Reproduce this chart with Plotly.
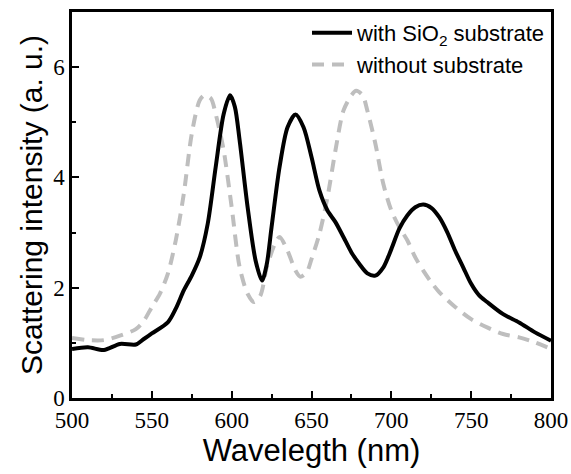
import plotly.graph_objects as go

wl_with = [500, 510, 520, 530, 540, 545, 550, 560, 565, 570, 575, 580, 585, 590, 595, 599, 602, 605, 610, 615, 619, 622, 625, 630, 635, 640, 645, 650, 655, 660, 665, 670, 675, 680, 685, 690, 695, 700, 705, 710, 715, 720, 725, 730, 735, 740, 745, 750, 755, 760, 770, 780, 790, 800]
int_with = [0.89, 0.92, 0.87, 0.98, 0.97, 1.07, 1.17, 1.37, 1.62, 1.95, 2.22, 2.55, 3.16, 4.19, 5.15, 5.49, 5.28, 4.67, 3.46, 2.49, 2.13, 2.43, 3.10, 4.19, 4.91, 5.14, 4.91, 4.37, 3.76, 3.40, 3.19, 2.92, 2.64, 2.43, 2.26, 2.22, 2.37, 2.70, 3.07, 3.31, 3.46, 3.51, 3.45, 3.28, 3.01, 2.67, 2.37, 2.07, 1.86, 1.74, 1.52, 1.37, 1.19, 1.04]

wl_without = [500, 510, 520, 530, 540, 545, 550, 555, 560, 565, 570, 575, 580, 583, 587, 590, 595, 600, 605, 610, 614, 618, 622, 627, 630, 635, 640, 643, 647, 650, 655, 660, 665, 670, 675, 678, 682, 685, 690, 695, 700, 705, 710, 715, 720, 725, 730, 740, 750, 760, 770, 780, 790, 800]
int_without = [1.09, 1.05, 1.05, 1.13, 1.25, 1.40, 1.65, 1.89, 2.25, 2.86, 3.70, 4.79, 5.40, 5.49, 5.43, 5.15, 4.49, 3.46, 2.37, 1.89, 1.74, 1.86, 2.37, 2.79, 2.92, 2.67, 2.31, 2.20, 2.28, 2.52, 2.98, 3.64, 4.49, 5.21, 5.49, 5.57, 5.49, 5.21, 4.61, 3.88, 3.40, 3.10, 2.86, 2.55, 2.31, 2.10, 1.92, 1.65, 1.43, 1.28, 1.16, 1.10, 1.01, 0.89]

x_ticks = [500, 550, 600, 650, 700, 750, 800]
y_ticks = [0, 2, 4, 6]

fig = go.Figure()
fig.add_trace(go.Scatter(x=wl_without, y=int_without, mode="lines",
                         name="without substrate",
                         line=dict(color="#bebebe", width=4, dash="12px,8px", shape="spline", smoothing=0.8)))
fig.add_trace(go.Scatter(x=wl_with, y=int_with, mode="lines",
                         name="with SiO<sub>2</sub> substrate",
                         line=dict(color="black", width=4, shape="spline", smoothing=0.8)))

serif = "Liberation Serif, Times New Roman, serif"
sans = "Liberation Sans, Arial, sans-serif"

fig.update_layout(
    width=571, height=474,
    margin=dict(l=72, r=20, t=12, b=76),
    paper_bgcolor="white", plot_bgcolor="white",
    showlegend=True,
    legend=dict(x=1.0, y=1.0, xanchor="right", yanchor="top",
                traceorder="reversed", bgcolor="rgba(0,0,0,0)",
                font=dict(family=sans, size=22, color="black"),
                itemwidth=40, tracegroupgap=0),
)

fig.update_xaxes(range=[500, 800], tickmode="array", tickvals=x_ticks, ticktext=[str(v) for v in x_ticks],
                 automargin=False,
                 showgrid=False, zeroline=False, showline=True, linecolor="black", linewidth=2.5,
                 mirror=True, ticks="inside", ticklen=7, tickwidth=2, tickcolor="black",
                 minor=dict(dtick=25, ticks="inside", ticklen=4, tickwidth=2, tickcolor="black", showgrid=False),
                 tickfont=dict(family=serif, size=23, color="black"),
                 title_text="Wavelegth (nm)", title_standoff=2,
                 title_font=dict(family=sans, size=31, color="black"))
fig.update_yaxes(range=[0, 7], tickmode="array", tickvals=y_ticks, ticktext=[str(v) for v in y_ticks],
                 automargin=False,
                 showgrid=False, zeroline=False, showline=True, linecolor="black", linewidth=2.5,
                 mirror=True, ticks="inside", ticklen=7, tickwidth=2, tickcolor="black",
                 minor=dict(dtick=1, ticks="inside", ticklen=4, tickwidth=2, tickcolor="black", showgrid=False),
                 tickfont=dict(family=serif, size=23, color="black"),
                 title_text="Scattering intensity (a. u.)", title_standoff=2,
                 title_font=dict(family=sans, size=30, color="black"))

fig.write_html("out.html", config={"displayModeBar": False},
               post_script="document.body.style.margin='0';")
